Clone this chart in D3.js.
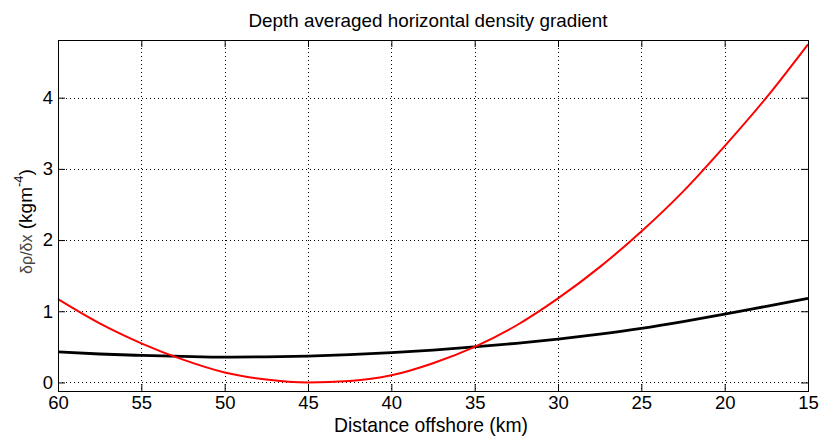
<!DOCTYPE html>
<html>
<head>
<meta charset="utf-8">
<script src="https://cdn.jsdelivr.net/npm/d3@7/dist/d3.min.js"></script>
<style>
html,body{margin:0;padding:0;background:#fff;}
svg{display:block;}
text{font-family:"Liberation Sans",Arial,Helvetica,sans-serif;fill:#000;}
</style>
</head>
<body>
<svg id="chart" width="819" height="436"></svg>
<script>
// Data
const distanceKm = [60, 57.5, 55, 52.5, 50, 47.5, 45, 42.5, 40, 37.5, 35, 32.5, 30, 27.5, 25, 22.5, 20, 17.5, 15];
const redSeries   = [1.17, 0.83, 0.55, 0.32, 0.14, 0.04, 0.0, 0.02, 0.10, 0.27, 0.50, 0.80, 1.18, 1.62, 2.12, 2.68, 3.32, 4.00, 4.75];
const blackSeries = [0.43, 0.40, 0.38, 0.365, 0.355, 0.36, 0.37, 0.39, 0.42, 0.455, 0.50, 0.55, 0.61, 0.68, 0.76, 0.855, 0.96, 1.07, 1.18];
const xTicks = [60, 55, 50, 45, 40, 35, 30, 25, 20, 15];
const yTicks = [0, 1, 2, 3, 4];
const xDomain = [60, 15];
const yDomain = [-0.12, 4.81];
const titleText = "Depth averaged horizontal density gradient";
const xLabelText = "Distance offshore (km)";

const svg = d3.select("#chart");
const L = 58, R = 808, T = 40, B = 391;
const x = d3.scaleLinear().domain(xDomain).range([L, R]);
const y = d3.scaleLinear().domain(yDomain).range([B, T]);

function fitWidth(sel, target) {
  const n = sel.node();
  const fs = parseFloat(sel.attr("font-size"));
  const w = n.getComputedTextLength ? n.getComputedTextLength() : 0;
  if (w > 0) sel.attr("font-size", (fs * target / w).toFixed(2));
}

// grid
const grid = svg.append("g").attr("stroke", "#000").attr("stroke-width", 1).attr("stroke-dasharray", "1,3").attr("shape-rendering", "crispEdges");
xTicks.forEach(t => {
  grid.append("line").attr("x1", Math.round(x(t)) + 0.5).attr("x2", Math.round(x(t)) + 0.5).attr("y1", T).attr("y2", B);
});
yTicks.forEach(t => {
  grid.append("line").attr("x1", L).attr("x2", R).attr("y1", Math.round(y(t)) + 0.5).attr("y2", Math.round(y(t)) + 0.5);
});

// lines
const line = d3.line().x((d, i) => x(distanceKm[i])).y(d => y(d)).curve(d3.curveMonotoneX);
svg.append("path").datum(blackSeries).attr("d", line).attr("fill", "none").attr("stroke", "#000").attr("stroke-width", 2.8);
svg.append("path").datum(redSeries).attr("d", line).attr("fill", "none").attr("stroke", "#ff0000").attr("stroke-width", 2);

// axes
const fmt = d3.format("d");
const axB = svg.append("g").attr("transform", `translate(0,${B})`)
  .call(d3.axisBottom(x).tickValues(xTicks).tickFormat(fmt).tickSizeInner(-7).tickSizeOuter(0).tickPadding(5));
const axT = svg.append("g").attr("transform", `translate(0,${T})`)
  .call(d3.axisTop(x).tickValues(xTicks).tickFormat("").tickSizeInner(-7).tickSizeOuter(0));
const axL = svg.append("g").attr("transform", `translate(${L},0)`)
  .call(d3.axisLeft(y).tickValues(yTicks).tickFormat(fmt).tickSizeInner(-7).tickSizeOuter(0).tickPadding(5));
const axR = svg.append("g").attr("transform", `translate(${R},0)`)
  .call(d3.axisRight(y).tickValues(yTicks).tickFormat("").tickSizeInner(-7).tickSizeOuter(0));
[axB, axT, axL, axR].forEach(a => {
  a.selectAll("path").attr("stroke", "#000").attr("stroke-width", 1);
  a.selectAll("line").attr("stroke", "#000");
  a.selectAll("text").attr("font-size", 18.5).attr("font-family", "Liberation Sans, Arial, sans-serif").attr("fill", "#000");
});
// box
svg.append("rect").attr("x", L + 0.5).attr("y", T + 0.5).attr("width", R - L).attr("height", B - T)
  .attr("fill", "none").attr("stroke", "#000").attr("stroke-width", 1).attr("shape-rendering", "crispEdges");

// title
const title = svg.append("text").attr("x", 428).attr("y", 27).attr("text-anchor", "middle").attr("font-size", 16).text(titleText);
fitWidth(title, 359);
// x label
const xl = svg.append("text").attr("x", 431).attr("y", 432).attr("text-anchor", "middle").attr("font-size", 18).text(xLabelText);
fitWidth(xl, 194);
// y label
const yl = svg.append("text").attr("transform", `translate(32,${(T + B) / 2 + 6}) rotate(-90)`).attr("text-anchor", "middle").attr("font-size", 19);
yl.append("tspan").attr("font-size", 16).attr("fill", "#444").text("δρ/δx");
yl.append("tspan").text(" (kgm");
yl.append("tspan").attr("font-size", 13).attr("dy", -9).text("-4");
yl.append("tspan").attr("dy", 9).text(")");
</script>
</body>
</html>
